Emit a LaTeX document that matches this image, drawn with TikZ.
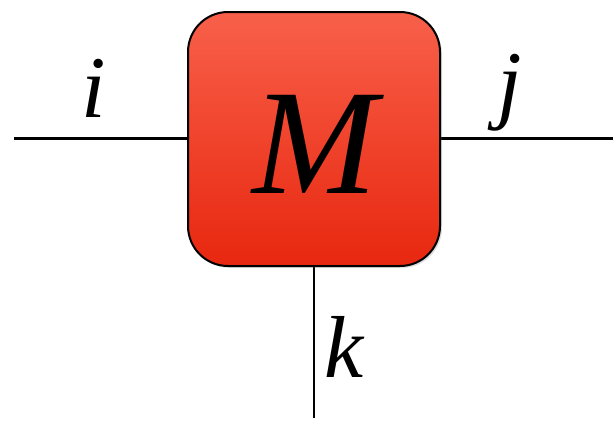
\documentclass[tikz,border=0pt]{standalone}
\usepackage{fontspec}
\setmainfont{Liberation Serif}
\usetikzlibrary{shadows}
\definecolor{boxtop}{HTML}{F8604A}
\definecolor{boxbot}{HTML}{E8270F}
\tikzset{
  leg/.style={line width=2.2pt, draw=black},
  lbl/.style={anchor=base, inner sep=0pt, font=\fontsize{88}{88}\selectfont\itshape},
  tensor/.style={draw=black, line width=2pt, rounded corners=40pt, top color=boxtop, bottom color=boxbot,
     drop shadow={shadow xshift=2pt, shadow yshift=-2pt, opacity=0.25}}
}
\begin{document}
\begin{tikzpicture}[x=1pt,y=-1pt]
\useasboundingbox (0,0) rectangle (616,421);
\coordinate (L) at (14,138.5);
\coordinate (R) at (613,138.5);
\coordinate (B) at (314,418);
\coordinate (BW) at (188,138.5);
\coordinate (BE) at (440,138.5);
\coordinate (BS) at (314,264);
\draw[leg] (L) -- (BW);
\draw[leg] (BE) -- (R);
\draw[leg] (BS) -- (B);
\path[tensor] (188,12) rectangle (440,266);
\node[lbl, font=\fontsize{150}{150}\selectfont\itshape] (M) at (315,193) {M};
\node[lbl] (i) at (94,117) {i};
\node[lbl] (j) at (510,112) {j};
\node[lbl] (k) at (344,377) {k};
\end{tikzpicture}
\end{document}
